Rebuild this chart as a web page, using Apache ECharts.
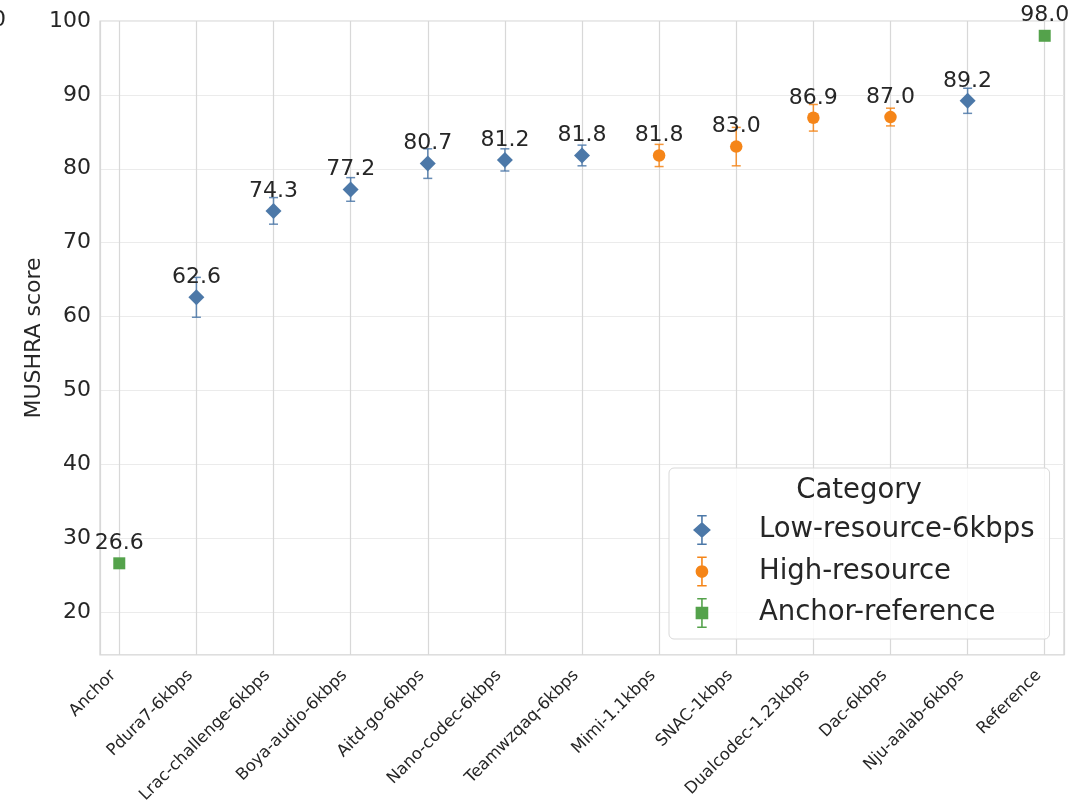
<!DOCTYPE html>
<html>
<head>
<meta charset="utf-8">
<script src="https://cdn.jsdelivr.net/npm/echarts@6/dist/echarts.min.js"></script>
<style>
html,body{margin:0;padding:0;background:#fff;}
#chart{width:1086px;height:806px;}
</style>
</head>
<body>
<div id="chart"></div>
<script>
const categories = ['Anchor','Pdura7-6kbps','Lrac-challenge-6kbps','Boya-audio-6kbps','Aitd-go-6kbps','Nano-codec-6kbps','Teamwzqaq-6kbps','Mimi-1.1kbps','SNAC-1kbps','Dualcodec-1.23kbps','Dac-6kbps','Nju-aalab-6kbps','Reference'];
const scores = [26.6, 62.6, 74.3, 77.2, 80.7, 81.2, 81.8, 81.8, 83.0, 86.9, 87.0, 89.2, 98.0];
const errors = [0.0, 2.7, 1.8, 1.6, 2.0, 1.5, 1.4, 1.5, 2.6, 1.8, 1.2, 1.7, 0.0];
const groupOf = ['Anchor-reference','Low-resource-6kbps','Low-resource-6kbps','Low-resource-6kbps','Low-resource-6kbps','Low-resource-6kbps','Low-resource-6kbps','High-resource','High-resource','High-resource','High-resource','Low-resource-6kbps','Anchor-reference'];
const seriesNames = ['Low-resource-6kbps','High-resource','Anchor-reference'];
const yTicks = [20, 30, 40, 50, 60, 70, 80, 90, 100];

const colors = {'Low-resource-6kbps':'#4c78a8','High-resource':'#f58518','Anchor-reference':'#54a24b'};
const errColors = {'Low-resource-6kbps':'rgba(76,120,168,0.85)','High-resource':'rgba(245,133,24,0.85)','Anchor-reference':'rgba(84,162,75,0.85)'};
const FONT = 'DejaVu Sans';
const TXT = '#262626';

// legend icon paths (pixel units)
const bar = 'M14.25 1.5 L15.75 1.5 L15.75 28.5 L14.25 28.5 Z M10.5 0.75 L19.5 0.75 L19.5 2.25 L10.5 2.25 Z M10.5 27.75 L19.5 27.75 L19.5 29.25 L10.5 29.25 Z ';
const kRad = 6*0.5523;
const iconPaths = {
  'Low-resource-6kbps': 'path://' + bar + 'M15 7.5 L23.5 15 L15 22.5 L6.5 15 Z',
  'High-resource': 'path://' + bar + `M15 9 C${15+kRad} 9 21 ${15-kRad} 21 15 C21 ${15+kRad} ${15+kRad} 21 15 21 C${15-kRad} 21 9 ${15+kRad} 9 15 C9 ${15-kRad} ${15-kRad} 9 15 9 Z`,
  'Anchor-reference': 'path://' + bar + 'M9 9 L21 9 L21 21 L9 21 Z'
};
const symbols = {'Low-resource-6kbps':['diamond',[16,16]],'High-resource':['circle',[12.5,12.5]],'Anchor-reference':['rect',[12,12]]};

const chart = echarts.init(document.getElementById('chart'), null, {renderer:'canvas'});

const errData = categories.map((c,i)=>[i, scores[i]-errors[i], scores[i]+errors[i], seriesNames.indexOf(groupOf[i])]);

const scatterSeries = seriesNames.map(name => ({
  name: name,
  type: 'scatter',
  z: 5,
  symbol: symbols[name][0],
  symbolSize: symbols[name][1],
  itemStyle: {color: colors[name], opacity: 1},
  data: categories.map((c,i)=> groupOf[i]===name ? [i, scores[i]] : null).filter(d=>d),
  label: {
    show: true,
    position: 'inside',
    offset: [0, -20],
    formatter: p => p.value[1].toFixed(1),
    color: TXT,
    fontSize: 22,
    fontFamily: FONT
  },
  emphasis: {disabled: true}
}));

const option = {
  animation: false,
  backgroundColor: '#ffffff',
  grid: {left: 100, right: 22, top: 21, bottom: 151, show: true, borderColor: '#d4d4d4', borderWidth: 1.2, backgroundColor: 'transparent'},
  xAxis: {
    type: 'value',
    min: -0.25, max: 12.25,
    splitNumber: 12, minInterval: 1, maxInterval: 1,
    axisLine: {show: false},
    axisTick: {show: false},
    splitLine: {show: true, lineStyle: {color: '#d8d8d8', width: 1.2}},
    axisLabel: {
      rotate: 45,
      align: 'right',
      verticalAlign: 'bottom',
      margin: 24,
      color: TXT,
      fontSize: 16.5,
      fontFamily: FONT,
      showMinLabel: false, showMaxLabel: false,
      formatter: v => (Math.abs(v - Math.round(v)) < 1e-6 && categories[Math.round(v)]) ? categories[Math.round(v)] : ''
    }
  },
  yAxis: {
    type: 'value',
    min: 14.2, max: 100,
    splitNumber: 9, minInterval: 10, maxInterval: 10,
    name: 'MUSHRA score',
    nameLocation: 'middle',
    nameGap: 55,
    nameMoveOverlap: false,
    nameTextStyle: {color: TXT, fontSize: 22, fontFamily: FONT},
    axisLine: {show: false},
    axisTick: {show: false},
    splitLine: {show: true, lineStyle: {color: '#ebebeb', width: 1}},
    axisLabel: {
      margin: 9,
      color: TXT,
      fontSize: 22,
      fontFamily: FONT,
      showMinLabel: false,
      formatter: v => yTicks.includes(Math.round(v*1000)/1000) ? String(v) : ''
    }
  },
  legend: {
    show: true,
    orient: 'vertical',
    left: 669,
    top: 468,
    padding: [47, 15, 11, 24],
    itemWidth: 30,
    itemHeight: 30,
    itemGap: 11.5,
    backgroundColor: 'rgba(255,255,255,0.85)',
    borderColor: '#d9d9d9',
    borderWidth: 1,
    borderRadius: 5,
    selectedMode: false,
    data: seriesNames.map(n => ({name: n, icon: iconPaths[n], itemStyle: {color: colors[n]}})),
    textStyle: {color: TXT, fontSize: 27.5, fontFamily: FONT, padding: [0,0,0,37]}
  },
  graphic: [
    {type: 'text', z: 100, x: 859, y: 491, style: {text: 'Category', fill: TXT, font: '27.5px "DejaVu Sans"', textAlign: 'center', textVerticalAlign: 'middle'}},
    {type: 'text', z: 100, x: -8, y: 20, style: {text: '0', fill: TXT, font: '22px "DejaVu Sans"', textAlign: 'left', textVerticalAlign: 'middle'}}
  ],
  series: [
    {
      type: 'custom',
      name: 'errorbars',
      z: 3,
      silent: true,
      data: errData,
      renderItem: (params, api) => {
        const x = api.value(0);
        const lo = api.coord([x, api.value(1)]);
        const hi = api.coord([x, api.value(2)]);
        const col = errColors[seriesNames[api.value(3)]];
        if (Math.abs(hi[1]-lo[1]) < 0.5) return {type: 'group', children: []};
        const st = {stroke: col, lineWidth: 1.5};
        const cw = 4.5;
        return {type: 'group', children: [
          {type: 'line', shape: {x1: lo[0], y1: lo[1], x2: hi[0], y2: hi[1]}, style: st},
          {type: 'line', shape: {x1: lo[0]-cw, y1: lo[1], x2: lo[0]+cw, y2: lo[1]}, style: st},
          {type: 'line', shape: {x1: hi[0]-cw, y1: hi[1], x2: hi[0]+cw, y2: hi[1]}, style: st}
        ]};
      }
    },
    ...scatterSeries
  ]
};
chart.setOption(option);
</script>
</body>
</html>
